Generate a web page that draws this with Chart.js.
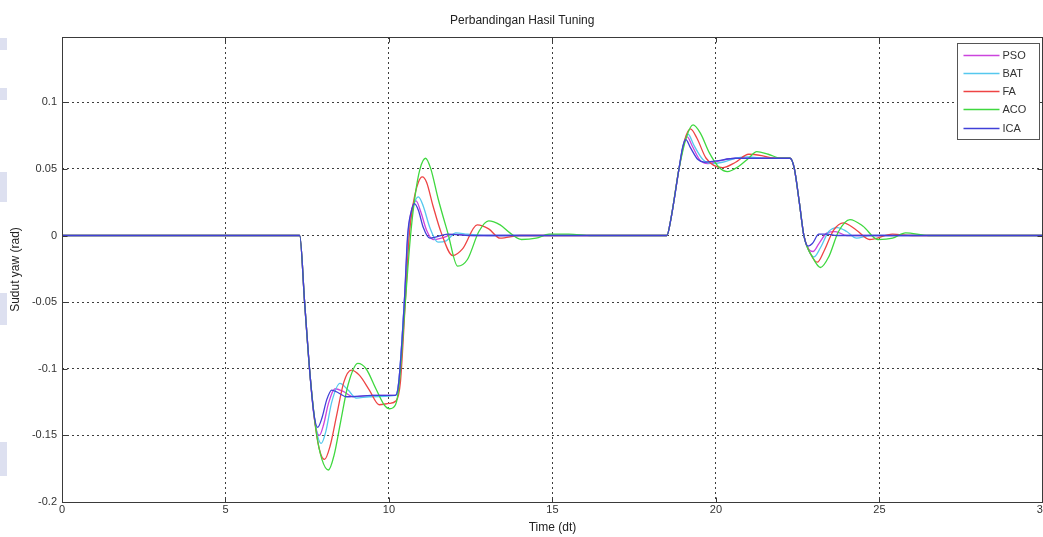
<!DOCTYPE html>
<html>
<head>
<meta charset="utf-8">
<script src="https://cdn.jsdelivr.net/npm/chart.js@4/dist/chart.umd.min.js"></script>
<style>
  html, body { margin: 0; padding: 0; background: #fff; overflow: hidden; }
  #wrap { position: relative; width: 1050px; height: 537px; }
  .mark { position: absolute; left: 0; width: 7px; background: #dde0f0; }
</style>
</head>
<body>
<div id="wrap">
  <div class="mark" style="top:38px;height:12px"></div>
  <div class="mark" style="top:88px;height:12px"></div>
  <div class="mark" style="top:172px;height:30px"></div>
  <div class="mark" style="top:293px;height:32px"></div>
  <div class="mark" style="top:442px;height:34px"></div>
  <canvas id="c"></canvas>
</div>
<script>
// Texts
const chartTitle = 'Perbandingan Hasil Tuning';
const xAxisTitle = 'Time (dt)';
const yAxisTitle = 'Sudut yaw (rad)';

// Series names and line colours (legend order)
const seriesNames = ['PSO', 'BAT', 'FA', 'ACO', 'ICA'];
const seriesColors = ['#cc44dd', '#55c8ee', '#ee4444', '#3fd83f', '#4040d8'];

// Axis ticks
const xTickValues = [0, 5, 10, 15, 20, 25, 30];
const xTickLabels = ['0', '5', '10', '15', '20', '25', '30'];
const yTickValues = [-0.2, -0.15, -0.1, -0.05, 0, 0.05, 0.1];
const yTickLabels = ['-0.2', '-0.15', '-0.1', '-0.05', '0', '0.05', '0.1'];

// Yaw response of each tuning method: [time, yaw angle]
const psoPoints = [
  [0, 0], [7.27, 0], [7.42, -0.05], [7.57, -0.1], [7.72, -0.138], [7.87, -0.15], [8.0, -0.142],
  [8.15, -0.126], [8.35, -0.115], [8.6, -0.117], [8.9, -0.121], [9.5, -0.12], [10.2, -0.12],
  [10.3, -0.11], [10.47, -0.05], [10.58, 0], [10.7, 0.02], [10.83, 0.026], [10.97, 0.018],
  [11.15, 0.004], [11.35, -0.003], [11.6, -0.002], [12.0, 0.001], [12.6, 0], [18.5, 0],
  [18.62, 0.012], [18.87, 0.05], [19.0, 0.067], [19.12, 0.074], [19.28, 0.067], [19.5, 0.057],
  [19.75, 0.054], [20.1, 0.056], [20.6, 0.058], [21.3, 0.058], [22.27, 0.058], [22.4, 0.05],
  [22.55, 0.025], [22.69, 0], [22.83, -0.01], [22.97, -0.012], [23.15, -0.006], [23.4, 0.002],
  [23.65, 0.003], [24.0, 0], [30, 0]
];
const batPoints = [
  [0, 0], [7.27, 0], [7.42, -0.05], [7.57, -0.1], [7.74, -0.14], [7.93, -0.156], [8.07, -0.147],
  [8.25, -0.125], [8.5, -0.111], [8.75, -0.116], [9.0, -0.122], [9.4, -0.121], [10.2, -0.12],
  [10.3, -0.11], [10.47, -0.05], [10.6, 0], [10.75, 0.022], [10.9, 0.029], [11.05, 0.022],
  [11.25, 0.006], [11.5, -0.005], [11.75, -0.004], [12.05, 0.002], [12.4, 0.001], [13.0, 0],
  [18.5, 0], [18.62, 0.012], [18.87, 0.05], [19.0, 0.068], [19.15, 0.076], [19.32, 0.068],
  [19.6, 0.057], [19.9, 0.054], [20.2, 0.055], [20.6, 0.058], [21.0, 0.059], [21.5, 0.058],
  [22.27, 0.058], [22.4, 0.05], [22.55, 0.025], [22.69, 0], [22.85, -0.012], [23.0, -0.016],
  [23.2, -0.009], [23.45, 0.003], [23.72, 0.006], [24.0, 0.003], [24.3, -0.002], [24.7, 0], [30, 0]
];
const faPoints = [
  [0, 0], [7.27, 0], [7.42, -0.05], [7.57, -0.1], [7.76, -0.145], [7.9, -0.163], [8.03, -0.168],
  [8.2, -0.158], [8.4, -0.135], [8.62, -0.11], [8.85, -0.101], [9.1, -0.105], [9.4, -0.116],
  [9.7, -0.127], [10.0, -0.126], [10.22, -0.124], [10.35, -0.11], [10.5, -0.05], [10.62, 0],
  [10.75, 0.025], [10.9, 0.04], [11.02, 0.044], [11.15, 0.04], [11.35, 0.022], [11.6, 0.002],
  [11.95, -0.015], [12.25, -0.01], [12.7, 0.008], [13.05, 0.005], [13.4, -0.002], [14.0, 0],
  [18.5, 0], [18.62, 0.012], [18.87, 0.05], [19.05, 0.072], [19.22, 0.08], [19.42, 0.073],
  [19.7, 0.058], [20.2, 0.051], [20.6, 0.055], [21.0, 0.061], [21.4, 0.06], [21.8, 0.058],
  [22.27, 0.058], [22.4, 0.05], [22.55, 0.025], [22.69, 0], [22.9, -0.014], [23.1, -0.02],
  [23.3, -0.012], [23.6, 0.004], [23.9, 0.0095], [24.3, 0.004], [24.7, -0.003], [25.4, 0.001],
  [26.0, 0], [30, 0]
];
const acoPoints = [
  [0, 0], [7.27, 0], [7.42, -0.05], [7.57, -0.1], [7.78, -0.148], [7.95, -0.168], [8.15, -0.176],
  [8.32, -0.165], [8.52, -0.14], [8.75, -0.112], [9.05, -0.096], [9.3, -0.1], [9.6, -0.115],
  [9.85, -0.127], [10.02, -0.13], [10.2, -0.127], [10.32, -0.11], [10.5, -0.05], [10.66, 0],
  [10.8, 0.03], [10.95, 0.05], [11.12, 0.058], [11.28, 0.05], [11.5, 0.028], [11.8, 0.002],
  [12.1, -0.023], [12.4, -0.018], [12.75, 0.003], [13.05, 0.011], [13.4, 0.008], [13.7, 0.002],
  [14.05, -0.003], [14.5, -0.002], [14.9, 0.001], [15.5, 0.001], [16.2, 0], [18.5, 0],
  [18.62, 0.012], [18.87, 0.05], [19.1, 0.074], [19.3, 0.083], [19.52, 0.077], [19.8, 0.062],
  [20.1, 0.051], [20.35, 0.048], [20.7, 0.052], [21.0, 0.058], [21.25, 0.063], [21.6, 0.061],
  [22.0, 0.058], [22.27, 0.058], [22.4, 0.05], [22.55, 0.025], [22.69, 0], [22.95, -0.016],
  [23.2, -0.024], [23.45, -0.016], [23.75, 0.003], [24.1, 0.012], [24.5, 0.007], [24.95, -0.003],
  [25.4, -0.002], [25.8, 0.002], [26.5, 0], [30, 0]
];
const icaPoints = [
  [0, 0], [7.27, 0], [7.42, -0.05], [7.57, -0.1], [7.7, -0.133], [7.82, -0.144], [7.95, -0.137],
  [8.1, -0.123], [8.25, -0.116], [8.45, -0.118], [8.7, -0.121], [9.5, -0.12], [10.2, -0.12],
  [10.3, -0.11], [10.47, -0.05], [10.57, 0], [10.68, 0.018], [10.78, 0.024], [10.9, 0.019],
  [11.05, 0.006], [11.25, -0.002], [11.45, -0.001], [11.8, 0.001], [12.5, 0], [18.5, 0],
  [18.62, 0.012], [18.87, 0.05], [18.98, 0.066], [19.08, 0.072], [19.22, 0.066], [19.45, 0.057],
  [19.65, 0.055], [20.0, 0.056], [20.6, 0.058], [21.3, 0.058], [22.27, 0.058], [22.4, 0.05],
  [22.55, 0.025], [22.69, 0], [22.82, -0.008], [22.95, -0.006], [23.15, 0.001], [23.4, 0.001],
  [23.7, 0], [30, 0]
];
const seriesPoints = [psoPoints, batPoints, faPoints, acoPoints, icaPoints];

const FONT = "'Liberation Sans', Arial, Helvetica, sans-serif";

function labelFor(values, labels, v) {
  const i = values.findIndex(t => Math.abs(t - v) < 1e-9);
  return i >= 0 ? labels[i] : '';
}

// Axes box with inward tick marks
const axesBox = {
  id: 'axesBox',
  afterDatasetsDraw(chart) {
    const { ctx, chartArea: a, scales: { x, y } } = chart;
    ctx.save();
    ctx.strokeStyle = '#3a3a3a';
    ctx.lineWidth = 1;
    const l = Math.round(a.left) + 0.5, t = Math.round(a.top) + 0.5;
    const r = Math.round(a.right) - 0.5, b = Math.round(a.bottom) + 0.5;
    ctx.strokeRect(l, t, r - l, b - t);
    const L = 5;
    ctx.beginPath();
    yTickValues.forEach(v => {
      const py = Math.round(y.getPixelForValue(v)) + 0.5;
      ctx.moveTo(l, py); ctx.lineTo(l + L, py);
      ctx.moveTo(r, py); ctx.lineTo(r - L, py);
    });
    xTickValues.forEach(v => {
      const px = Math.round(x.getPixelForValue(v)) + 0.5;
      ctx.moveTo(px, b); ctx.lineTo(px, b - L);
      ctx.moveTo(px, t); ctx.lineTo(px, t + L);
    });
    ctx.stroke();
    ctx.restore();
  }
};

// Boxed legend in the upper right corner of the axes
const boxLegend = {
  id: 'boxLegend',
  afterDraw(chart) {
    const { ctx, chartArea: a } = chart;
    const w = 82, h = 96;
    const left = Math.round(a.right - 86) + 0.5, top = Math.round(a.top + 6) + 0.5;
    ctx.save();
    ctx.fillStyle = '#fff';
    ctx.fillRect(left, top, w, h);
    ctx.strokeStyle = '#555';
    ctx.lineWidth = 1;
    ctx.strokeRect(left, top, w, h);
    ctx.font = '11px ' + FONT;
    ctx.textBaseline = 'middle';
    ctx.textAlign = 'left';
    seriesNames.forEach((name, i) => {
      const yy = Math.round(top + 11 + i * 18.3) + 0.5;
      ctx.strokeStyle = seriesColors[i];
      ctx.lineWidth = 1.3;
      ctx.beginPath();
      ctx.moveTo(left + 6, yy);
      ctx.lineTo(left + 42, yy);
      ctx.stroke();
      ctx.fillStyle = '#333';
      ctx.fillText(name, left + 45, yy + 0.5);
    });
    ctx.restore();
  }
};

const datasets = seriesNames.map((name, i) => ({
  label: name,
  data: seriesPoints[i].map(p => ({ x: p[0], y: p[1] })),
  borderColor: seriesColors[i],
  borderWidth: 1.3,
  pointRadius: 0,
  fill: false,
  cubicInterpolationMode: 'monotone',
  order: seriesNames.length - i
}));

const gridStyle = { color: '#3c3c3c', lineWidth: 1, drawTicks: false };

new Chart(document.getElementById('c'), {
  type: 'line',
  data: { datasets },
  options: {
    responsive: true,
    maintainAspectRatio: false,
    animation: false,
    events: [],
    layout: { autoPadding: false, padding: { left: 0, right: 5.5, top: 0, bottom: 0 } },
    plugins: {
      legend: { display: false },
      tooltip: { enabled: false },
      title: {
        display: true,
        text: chartTitle,
        color: '#222',
        font: { family: FONT, size: 12, weight: 'normal' },
        padding: { top: 13, bottom: 9.6 }
      }
    },
    scales: {
      x: {
        type: 'linear',
        min: 0,
        max: 30,
        afterBuildTicks: s => { s.ticks = xTickValues.map(v => ({ value: v })); },
        afterFit: s => { s.height = 35; },
        ticks: {
          color: '#333',
          font: { family: FONT, size: 11 },
          padding: 1,
          maxRotation: 0,
          autoSkip: false,
          callback: v => labelFor(xTickValues, xTickLabels, v)
        },
        grid: gridStyle,
        border: { display: false, dash: [2, 3] },
        title: {
          display: true,
          text: xAxisTitle,
          color: '#222',
          font: { family: FONT, size: 12 },
          padding: { top: 0, bottom: 1.8 }
        }
      },
      y: {
        type: 'linear',
        min: -0.2,
        max: 0.149,
        afterBuildTicks: s => { s.ticks = yTickValues.map(v => ({ value: v })); },
        afterFit: s => { s.width = 62; },
        ticks: {
          color: '#333',
          font: { family: FONT, size: 11 },
          padding: 5,
          autoSkip: false,
          callback: v => labelFor(yTickValues, yTickLabels, v)
        },
        grid: gridStyle,
        border: { display: false, dash: [2, 3] },
        title: {
          display: true,
          text: yAxisTitle,
          color: '#222',
          font: { family: FONT, size: 12 },
          padding: { top: 8, bottom: 0 }
        }
      }
    }
  },
  plugins: [axesBox, boxLegend]
});
</script>
</body>
</html>
